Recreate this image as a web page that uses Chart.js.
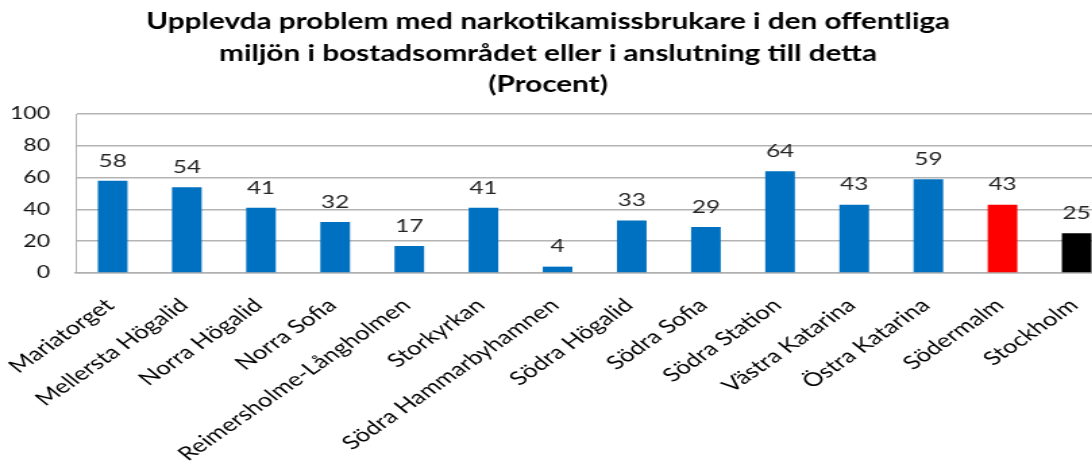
<!DOCTYPE html>
<html>
<head>
<meta charset="utf-8">
<script src="https://cdn.jsdelivr.net/npm/chart.js@4.4.1/dist/chart.umd.min.js"></script>
<style>
  html, body { margin: 0; padding: 0; background: #fff; overflow: hidden; width: 1092px; height: 463px; }
  #wrap { position: absolute; left: 0; top: 0; width: 825px; height: 463px; transform-origin: 0 0; transform: scaleX(1.35); }
</style>
</head>
<body>
<div id="wrap"><canvas id="c"></canvas></div>
<script>
const titleLines = [
  "Upplevda problem med narkotikamissbrukare i den offentliga",
  "miljön i bostadsområdet eller i anslutning till detta",
  "(Procent)"
];
const categories = [
  "Mariatorget", "Mellersta Högalid", "Norra Högalid", "Norra Sofia",
  "Reimersholme-Långholmen", "Storkyrkan", "Södra Hammarbyhamnen", "Södra Högalid",
  "Södra Sofia", "Södra Station", "Västra Katarina", "Östra Katarina",
  "Södermalm", "Stockholm"
];
const values = [58, 54, 41, 32, 17, 41, 4, 33, 29, 64, 43, 59, 43, 25];
const barColors = [
  "#0070C0", "#0070C0", "#0070C0", "#0070C0", "#0070C0", "#0070C0", "#0070C0",
  "#0070C0", "#0070C0", "#0070C0", "#0070C0", "#0070C0", "#FF0000", "#000000"
];
const yTicks = [0, 20, 40, 60, 80, 100];

const titlePlugin = {
  id: 'customTitle',
  afterDraw(chart) {
    const ctx = chart.ctx;
    ctx.save();
    ctx.font = "bold 22px Lato";
    ctx.fillStyle = "#000";
    ctx.textAlign = "center";
    ctx.textBaseline = "middle";
    const ys = [22, 54, 85];
    titleLines.forEach((t, i) => ctx.fillText(t, 406, ys[i]));
    ctx.restore();
  }
};

const valueLabels = {
  id: 'valueLabels',
  afterDatasetsDraw(chart) {
    const ctx = chart.ctx;
    const meta = chart.getDatasetMeta(0);
    ctx.save();
    ctx.font = "18px Lato";
    ctx.fillStyle = "#262626";
    ctx.textAlign = "center";
    ctx.textBaseline = "bottom";
    meta.data.forEach((bar, i) => {
      ctx.fillText(String(values[i]), bar.x, bar.y - 11);
    });
    ctx.restore();
  }
};

new Chart(document.getElementById('c'), {
  type: 'bar',
  data: {
    labels: categories,
    datasets: [{
      data: values,
      backgroundColor: barColors,
      barPercentage: 0.4,
      categoryPercentage: 1.0
    }]
  },
  options: {
    responsive: true,
    maintainAspectRatio: false,
    animation: false,
    layout: { padding: { top: 114, left: 0, right: 0, bottom: 0 } },
    plugins: { legend: { display: false }, title: { display: false }, tooltip: { enabled: false } },
    scales: {
      x: {
        grid: { display: false, drawTicks: false },
        border: { display: true, color: '#b0b0b0', width: 1.5 },
        ticks: {
          autoSkip: false, maxRotation: 43, minRotation: 43, padding: 21, labelOffset: -2,
          color: '#000', font: { family: 'Lato', size: 19 }
        },
        afterFit(scale) {
          scale.height = 190;
          scale.paddingLeft = 0; scale.paddingRight = 0;
          scale.paddingTop = 0; scale.paddingBottom = 0;
        }
      },
      y: {
        min: 0, max: 100,
        afterBuildTicks(scale) { scale.ticks = yTicks.map(v => ({ value: v })); },
        grid: { color: '#b4b4b4', lineWidth: 1.5, drawTicks: false },
        border: { display: true, color: '#b0b0b0', width: 1 },
        ticks: { padding: 19, color: '#111', font: { family: 'Lato', size: 17 } },
        afterFit(scale) {
          scale.width = 56;
          scale.paddingTop = 0; scale.paddingBottom = 0;
        }
      }
    }
  },
  plugins: [titlePlugin, valueLabels]
});
</script>
</body>
</html>
